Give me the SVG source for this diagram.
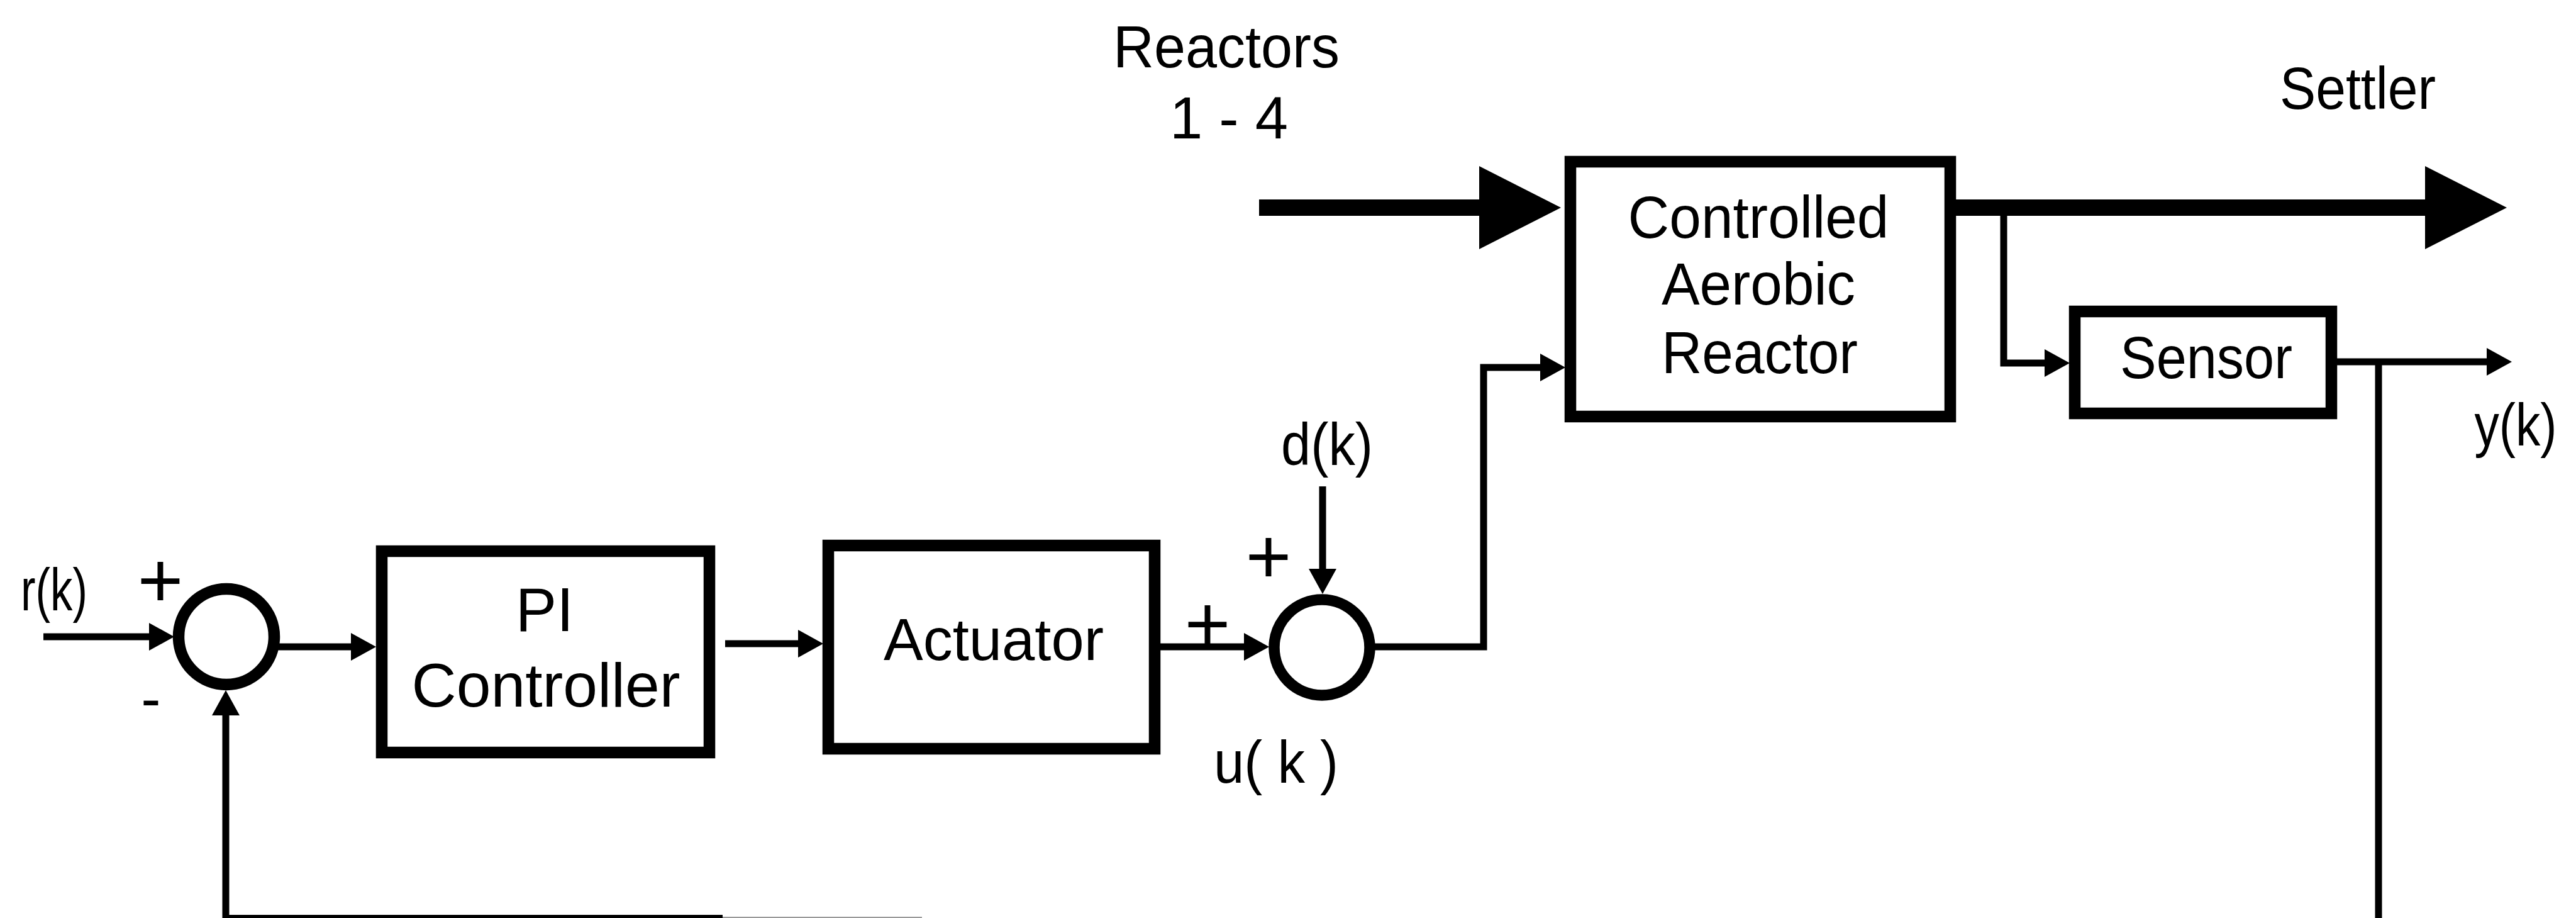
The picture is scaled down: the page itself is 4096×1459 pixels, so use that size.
<svg xmlns="http://www.w3.org/2000/svg" width="4096" height="1459" viewBox="0 0 4096 1459">
<style>
.box{fill:#fff;stroke:#000;stroke-width:18.5}
.sum{fill:#fff;stroke:#000}
.ln{fill:none;stroke:#000;stroke-width:11;stroke-linejoin:miter;stroke-linecap:butt}
.flow{fill:none;stroke:#000;stroke-width:26;stroke-linecap:butt}
.t{font-family:"Liberation Sans",Arial,sans-serif;font-size:94px;fill:#000;text-anchor:middle}
.sg{font-family:"Liberation Sans",Arial,sans-serif;font-size:125px;fill:#000;text-anchor:middle}
</style>
<defs>
<marker id="arr" viewBox="0 0 40 44" refX="1" refY="22" markerWidth="40" markerHeight="44" markerUnits="userSpaceOnUse" orient="auto"><path d="M0,0 L40,22 L0,44 z" fill="#000"/></marker>
<marker id="big" viewBox="0 0 130 132" refX="1" refY="66" markerWidth="130" markerHeight="132" markerUnits="userSpaceOnUse" orient="auto"><path d="M0,0 L130,66 L0,132 z" fill="#000"/></marker>
</defs>
<rect width="4096" height="1459" fill="#fff"/>

<g id="connectors">
<path class="ln" d="M69,1012 H238" marker-end="url(#arr)"/>
<path class="ln" d="M440,1028 H559" marker-end="url(#arr)"/>
<path class="ln" d="M1153,1023 H1270" marker-end="url(#arr)"/>
<path class="ln" d="M1845,1028 H1979" marker-end="url(#arr)"/>
<path class="ln" d="M2103,773 V905" marker-end="url(#arr)"/>
<path class="ln" d="M2180,1028 H2359 V584 H2450" marker-end="url(#arr)"/>
<path class="flow" d="M2002,330 H2353" marker-end="url(#big)"/>
<path class="flow" d="M3105,330 H3857" marker-end="url(#big)"/>
<path class="ln" d="M3186,335 V577 H3252" marker-end="url(#arr)"/>
<path class="ln" d="M3716,575 H3955" marker-end="url(#arr)"/>
<path class="ln" d="M3782,570 V1465"/>
<path class="ln" d="M1149,1459.5 H359 V1136" marker-end="url(#arr)"/>
<path d="M1149,1458 H1466" stroke="#999" stroke-width="2" fill="none"/>
</g>

<g id="sum1">
<circle class="sum" cx="360" cy="1012" r="76" stroke-width="18.5"/>
<text class="sg" x="255" y="965">+</text>
<text class="t" x="240" y="1142">-</text>
</g>

<g id="ref-label"><text class="t" x="86" y="970" textLength="106" lengthAdjust="spacingAndGlyphs">r(k)</text></g>

<g id="pi-controller">
<rect class="box" x="607" y="876" width="521" height="320"/>
<text class="t" x="866" y="1003" style="font-size:98px">PI</text>
<text class="t" x="868" y="1123" style="font-size:98px" textLength="427" lengthAdjust="spacingAndGlyphs">Controller</text>
</g>

<g id="actuator">
<rect class="box" x="1317" y="867" width="519" height="323"/>
<text class="t" x="1580" y="1049">Actuator</text>
</g>

<g id="sum2">
<circle class="sum" cx="2102" cy="1029" r="76" stroke-width="17.5"/>
<text class="sg" x="1920" y="1034">+</text>
<text class="sg" x="2017" y="927">+</text>
</g>

<g id="disturbance-label"><text class="t" x="2110" y="739" textLength="146" lengthAdjust="spacingAndGlyphs">d(k)</text></g>
<g id="control-label"><text class="t" x="2029" y="1244" textLength="198" lengthAdjust="spacingAndGlyphs">u( k )</text></g>

<g id="reactors-label">
<text class="t" x="1950" y="107" textLength="360" lengthAdjust="spacingAndGlyphs">Reactors</text>
<text class="t" x="1954" y="220">1 - 4</text>
</g>

<g id="reactor">
<rect class="box" x="2497" y="257" width="604" height="405"/>
<text class="t" x="2796" y="378" textLength="415" lengthAdjust="spacingAndGlyphs">Controlled</text>
<text class="t" x="2796" y="484" textLength="308" lengthAdjust="spacingAndGlyphs">Aerobic</text>
<text class="t" x="2798" y="593" textLength="312" lengthAdjust="spacingAndGlyphs">Reactor</text>
</g>

<g id="settler-label"><text class="t" x="3749" y="173" textLength="248" lengthAdjust="spacingAndGlyphs">Settler</text></g>

<g id="sensor">
<rect class="box" x="3299" y="495" width="408" height="162"/>
<text class="t" x="3508" y="601" textLength="274" lengthAdjust="spacingAndGlyphs">Sensor</text>
</g>

<g id="output-label"><text class="t" x="4000" y="708" textLength="131" lengthAdjust="spacingAndGlyphs">y(k)</text></g>
</svg>
